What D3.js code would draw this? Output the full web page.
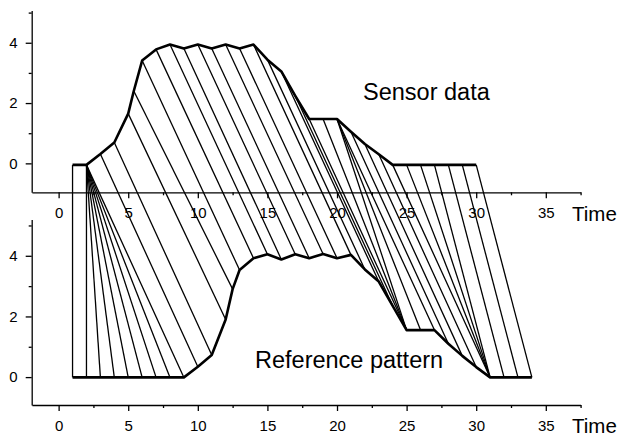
<!DOCTYPE html>
<html>
<head>
<meta charset="utf-8">
<script src="https://cdn.jsdelivr.net/npm/d3@7"></script>
<style>
  html, body { margin: 0; padding: 0; background: #fff; }
  svg { display: block; }
  text { font-family: "Liberation Sans", Arial, sans-serif; fill: #000; }
</style>
</head>
<body>
<svg id="chart" width="620" height="439"></svg>
<script>
// ---- data ----
const sensorTime  = [1, 2, 3, 4, 5, 5.4, 6, 7, 8, 9, 10, 11, 12, 13, 14, 15, 16, 17, 18, 19, 20, 21, 22, 23, 24, 25, 26, 27, 28, 29, 30];
const sensorValue = [-0.05, -0.05, 0.31, 0.69, 1.65, 2.4, 3.41, 3.78, 3.94, 3.81, 3.94, 3.81, 3.94, 3.81, 3.94, 3.44, 3.05, 2.24, 1.47, 1.47, 1.47, 1.05, 0.64, 0.3, -0.05, -0.05, -0.05, -0.05, -0.05, -0.05, -0.05];

const refTime  = [1, 2, 3, 4, 5, 6, 7, 8, 9, 10, 11, 12, 12.5, 13, 14, 15, 16, 17, 18, 19, 20, 21, 22, 23, 24, 25, 26, 27, 28, 29, 30, 31, 32, 33, 34];
const refValue = [-0.01, -0.01, -0.01, -0.01, -0.01, -0.01, -0.01, -0.01, -0.01, 0.34, 0.73, 1.9, 2.9, 3.53, 3.92, 4.05, 3.88, 4.05, 3.92, 4.06, 3.92, 4.03, 3.55, 3.15, 2.35, 1.55, 1.55, 1.55, 1.1, 0.7, 0.33, -0.01, -0.01, -0.01, -0.01];

// warping path: sensor time -> reference time
const pathSensor = [1, 2, 2, 2, 2, 2, 2, 2, 2, 3, 4, 5, 5.4, 6, 7, 8, 9, 10, 11, 12, 13, 14, 15, 16, 17, 18, 19, 20, 20, 20, 21, 22, 23, 24, 25, 26, 27, 28, 29, 30];
const pathRef    = [1, 2, 3, 4, 5, 6, 7, 8, 9, 10, 11, 12, 12.5, 13, 14, 15, 16, 17, 18, 19, 20, 21, 22, 23, 24, 25, 25, 25, 26, 27, 28, 29, 30, 31, 31, 31, 31, 32, 33, 34];

const xMajorTicks = [0, 5, 10, 15, 20, 25, 30, 35];
const xMinorTicks = [2.5, 7.5, 12.5, 17.5, 22.5, 27.5, 32.5, 37.5];
const yMajorTicks = [0, 2, 4];
const yMinorTicks = [1, 3, 5];

const sensorLabel = "Sensor data";
const refLabel = "Reference pattern";
const timeLabel = "Time";

// ---- scales ----
const svg = d3.select("#chart");
const x = d3.scaleLinear().domain([-1.92, 37.5]).range([31.9, 580.6]);
const yTop = d3.scaleLinear().domain([-0.96, 5.07]).range([192.3, 10.5]);
const yBot = d3.scaleLinear().domain([-0.92, 5.2]).range([405, 219.4]);

const sensorMap = new Map(sensorTime.map((t, i) => [t, sensorValue[i]]));
const refMap = new Map(refTime.map((t, i) => [t, refValue[i]]));

// ---- connectors ----
const links = pathSensor.map((s, i) => ({ s, r: pathRef[i] }));
svg.append("g")
  .selectAll("line")
  .data(links)
  .join("line")
  .attr("x1", d => x(d.s))
  .attr("y1", d => yTop(sensorMap.get(d.s)))
  .attr("x2", d => x(d.r))
  .attr("y2", d => yBot(refMap.get(d.r)))
  .attr("stroke", "#000")
  .attr("stroke-width", 1.3);

// ---- curves ----
const sensorPts = sensorTime.map((t, i) => [t, sensorValue[i]]);
const refPts = refTime.map((t, i) => [t, refValue[i]]);
svg.append("path")
  .datum(sensorPts)
  .attr("fill", "none").attr("stroke", "#000").attr("stroke-width", 2.6)
  .attr("stroke-linejoin", "round")
  .attr("d", d3.line().x(d => x(d[0])).y(d => yTop(d[1])));
svg.append("path")
  .datum(refPts)
  .attr("fill", "none").attr("stroke", "#000").attr("stroke-width", 2.6)
  .attr("stroke-linejoin", "round")
  .attr("d", d3.line().x(d => x(d[0])).y(d => yBot(d[1])));

// ---- axes ----
function styleAxis(g) {
  g.selectAll("path").attr("stroke-width", 1.3);
  g.selectAll("line").attr("stroke-width", 1.3);
  g.selectAll("text").attr("font-size", 15).attr("font-family", '"Liberation Sans", Arial, sans-serif');
}

function drawXAxis(yPos) {
  const gMaj = svg.append("g").attr("transform", `translate(0,${yPos})`)
    .call(d3.axisBottom(x).tickValues(xMajorTicks).tickFormat(d3.format("d"))
      .tickSize(6).tickSizeOuter(0).tickPadding(9));
  styleAxis(gMaj);
  const gMin = svg.append("g").attr("transform", `translate(0,${yPos})`)
    .call(d3.axisBottom(x).tickValues(xMinorTicks).tickFormat("")
      .tickSize(3).tickSizeOuter(0));
  gMin.select(".domain").remove();
  styleAxis(gMin);
}

function drawYAxis(yScale) {
  const gMaj = svg.append("g").attr("transform", `translate(31.7,0)`)
    .call(d3.axisLeft(yScale).tickValues(yMajorTicks).tickFormat(d3.format("d"))
      .tickSize(6).tickSizeOuter(0).tickPadding(8));
  styleAxis(gMaj);
  const gMin = svg.append("g").attr("transform", `translate(31.7,0)`)
    .call(d3.axisLeft(yScale).tickValues(yMinorTicks).tickFormat("")
      .tickSize(3).tickSizeOuter(0));
  gMin.select(".domain").remove();
  styleAxis(gMin);
}

drawXAxis(192.3);
drawXAxis(405);
drawYAxis(yTop);
drawYAxis(yBot);

// ---- labels ----
svg.append("text").attr("x", 572).attr("y", 221).attr("font-size", 20.5).text(timeLabel);
svg.append("text").attr("x", 572).attr("y", 433).attr("font-size", 20.5).text(timeLabel);
svg.append("text").attr("x", 363).attr("y", 100).attr("font-size", 23.5).text(sensorLabel);
svg.append("text").attr("x", 255).attr("y", 368).attr("font-size", 23.5).text(refLabel);
</script>
</body>
</html>
